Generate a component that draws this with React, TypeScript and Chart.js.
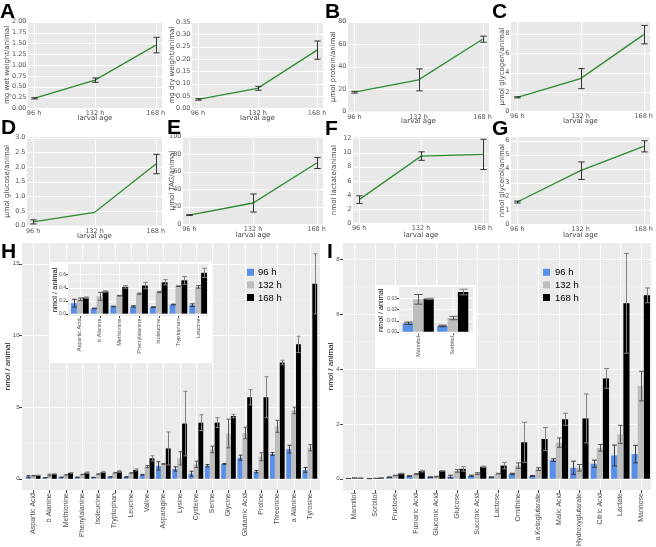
import React, { useEffect, useRef } from "react";
import { Chart, registerables } from "chart.js";

Chart.register(...registerables);

// ---------------- data: growth / metabolite time courses (A-G) ----------------
const AGE_HOURS = [96, 132, 168];
const AGE_LABELS = ["96 h", "132 h", "168 h"];

const wetWeight = [0.23, 0.65, 1.46];
const wetWeightErr = [0.015, 0.05, 0.18];
const dryWeight = [0.036, 0.081, 0.236];
const dryWeightErr = [0.003, 0.008, 0.037];
const protein = [17.2, 28.2, 64.4];
const proteinErr = [0.8, 9.8, 2.7];
const glycogen = [1.45, 3.37, 7.9];
const glycogenErr = [0.06, 1.03, 0.95];
const glucose = [0.13, 0.45, 2.1];
const glucoseErr = [0.07, 0, 0.33];
const tag = [10.5, 24.3, 70];
const tagErr = [0.5, 10.3, 6.3];
const lactate = [3.35, 9.5, 9.75];
const lactateErr = [0.54, 0.6, 2.14];
const glycerol = [1.6, 3.85, 5.6];
const glycerolErr = [0.07, 0.63, 0.4];

const wetTicks = [0, 0.25, 0.5, 0.75, 1, 1.25, 1.5, 1.75, 2];
const dryTicks = [0, 0.05, 0.1, 0.15, 0.2, 0.25, 0.3, 0.35];
const proteinTicks = [0, 20, 40, 60, 80];
const glycogenTicks = [0, 1, 2, 3, 4, 5, 6, 7, 8, 9];
const glucoseTicks = [0, 0.5, 1, 1.5, 2, 2.5, 3];
const tagTicks = [0, 20, 40, 60, 80, 100];
const lactateTicks = [0, 2, 4, 6, 8, 10, 12];
const glycerolTicks = [0, 1, 2, 3, 4, 5, 6];

// ---------------- data: amino acids (H) ----------------
const SERIES_LABELS = ["96 h", "132 h", "168 h"];

const hCategories = [
  "Aspartic Acid", "b Alanine", "Methionine", "Phenylalanine", "Isoleucine", "Tryptophan",
  "Leucine", "Valine", "Asparagine", "Lysine", "Cysteine", "Serine", "Glycine",
  "Glutamic Acid", "Proline", "Threonine", "a Alanine", "Tyrosine",
];
const h96 = [0.16, 0.08, 0.11, 0.11, 0.1, 0.14, 0.13, 0.28, 0.9, 0.69, 0.35, 0.92, 1.04, 1.47, 0.5, 1.73, 2.07, 0.62];
const h96Err = [0.06, 0.005, 0.005, 0.01, 0.005, 0.005, 0.02, 0.03, 0.29, 0.15, 0.18, 0.08, 0.03, 0.18, 0.08, 0.1, 0.27, 0.17];
const h132 = [0.22, 0.265, 0.275, 0.305, 0.33, 0.42, 0.41, 0.85, 1.04, 1.43, 1.01, 2.05, 3.16, 3.2, 1.54, 3.66, 4.77, 2.17];
const h132Err = [0.02, 0.06, 0.005, 0.01, 0.01, 0.005, 0.02, 0.07, 0.03, 0.46, 0.22, 0.23, 1.0, 0.4, 0.28, 0.42, 0.23, 0.22];
const h168 = [0.245, 0.34, 0.41, 0.43, 0.48, 0.51, 0.625, 1.43, 2.12, 3.85, 3.92, 3.92, 4.38, 5.69, 5.69, 8.11, 9.38, 13.6];
const h168Err = [0.01, 0.01, 0.02, 0.05, 0.04, 0.06, 0.07, 0.18, 1.15, 2.25, 0.55, 0.34, 0.12, 0.53, 1.43, 0.16, 0.57, 2.1];
const hTicks = [0, 5, 10, 15];
const hInsetCount = 7;
const hInsetTicks = [0, 0.2, 0.4, 0.6];

// ---------------- data: sugars & organic acids (I) ----------------
const iCategories = [
  "Mannitol", "Sorbitol", "Fructose", "Fumaric Acid", "Gluconic Acid", "Glucose",
  "Succinic Acid", "Lactose", "Ornithine", "a Ketoglutarate", "Malic Acid",
  "Hydroxyglutarate", "Citric Acid", "Lactate", "Mannose",
];
const i96 = [0.0077, 0.0052, 0.06, 0.1, 0.06, 0.08, 0.11, 0.06, 0.18, 0.1, 0.68, 0.4, 0.55, 0.85, 0.9];
const i96Err = [0.001, 0.0007, 0.005, 0.01, 0.01, 0.05, 0.02, 0.01, 0.02, 0.02, 0.05, 0.24, 0.13, 0.38, 0.32];
const i132 = [0.029, 0.0123, 0.12, 0.17, 0.08, 0.29, 0.19, 0.19, 0.48, 0.35, 1.32, 0.4, 1.13, 1.62, 3.38];
const i132Err = [0.0043, 0.0015, 0.01, 0.02, 0.01, 0.05, 0.03, 0.01, 0.1, 0.05, 0.17, 0.12, 0.12, 0.33, 0.54];
const i168 = [0.0295, 0.0355, 0.19, 0.28, 0.29, 0.36, 0.44, 0.48, 1.33, 1.45, 2.17, 2.2, 3.66, 6.4, 6.69];
const i168Err = [0.0005, 0.0025, 0.01, 0.03, 0.01, 0.08, 0.02, 0.12, 0.73, 0.42, 0.22, 0.89, 0.36, 1.82, 0.27];
const iTicks = [0, 2, 4, 6, 8];
const iInsetCount = 2;
const iInsetTicks = [0, 0.01, 0.02, 0.03];

// ---------------- styles ----------------
const LINE_FONT = "'DejaVu Sans', sans-serif";
const BAR_FONT = "'Liberation Sans', Arial, sans-serif";
const GREEN = "#2f8a2f";
const SERIES_COLORS = ["#5a8fe8", "#bdbdbd", "#000000"];
const SERIES_ERR_COLORS = ["#3a3a3a", "#555555", "#808080"];
const NO_GRID = { display: false, drawTicks: false, tickLength: 0 };

type Area = { l: number; r: number; t: number; b: number };
type Box = { x: number; y: number; w: number; h: number };

// ---------------- plugins ----------------
const panelPlugin = {
  id: "panel",
  beforeDraw(chart: any, _a: any, o: any) {
    const { ctx, chartArea: a } = chart;
    const xs = chart.scales.x;
    const ys = chart.scales.y;
    const l = a.left - (o.padL || 0);
    const r = a.right + (o.padR || 0);
    ctx.save();
    if (o.canvasBg) {
      ctx.fillStyle = o.canvasBg;
      ctx.fillRect(0, 0, chart.width, chart.height);
    }
    ctx.fillStyle = o.bg;
    ctx.fillRect(l, a.top, r - l, a.bottom - a.top);
    const tv: number[] = ys.ticks.map((t: any) => t.value);
    if (o.minor) {
      ctx.strokeStyle = o.minorColor;
      ctx.lineWidth = o.minorWidth;
      ctx.beginPath();
      for (let i = 0; i < tv.length - 1; i++) {
        const py = ys.getPixelForValue((tv[i] + tv[i + 1]) / 2);
        ctx.moveTo(l, py);
        ctx.lineTo(r, py);
      }
      ctx.stroke();
    }
    ctx.strokeStyle = o.gridColor;
    ctx.lineWidth = o.gridWidth;
    ctx.beginPath();
    tv.forEach((v) => {
      const py = Math.round(ys.getPixelForValue(v)) + 0.5;
      ctx.moveTo(l, py);
      ctx.lineTo(r, py);
    });
    xs.ticks.forEach((_t: any, i: number) => {
      const px = Math.round(xs.getPixelForTick(i)) + 0.5;
      ctx.moveTo(px, a.top);
      ctx.lineTo(px, a.bottom);
    });
    ctx.stroke();
    if (o.tickLen) {
      ctx.strokeStyle = o.tickColor;
      ctx.lineWidth = 1;
      ctx.beginPath();
      tv.forEach((v) => {
        const py = Math.round(ys.getPixelForValue(v)) + 0.5;
        ctx.moveTo(l - o.tickLen, py);
        ctx.lineTo(l, py);
      });
      xs.ticks.forEach((_t: any, i: number) => {
        const px = Math.round(xs.getPixelForTick(i)) + 0.5;
        ctx.moveTo(px, a.bottom);
        ctx.lineTo(px, a.bottom + o.tickLen);
      });
      ctx.stroke();
    }
    ctx.restore();
  },
};

const errorBarPlugin = {
  id: "errorBars",
  afterDatasetsDraw(chart: any, _a: any, o: any) {
    const errs = o.errors;
    if (!errs) return;
    const { ctx } = chart;
    const ys = chart.scales.y;
    ctx.save();
    chart.data.datasets.forEach((ds: any, di: number) => {
      const e = errs[di];
      if (!e) return;
      const meta = chart.getDatasetMeta(di);
      ctx.strokeStyle = Array.isArray(o.color) ? o.color[di] : o.color;
      ctx.lineWidth = o.lineWidth || 1;
      meta.data.forEach((el: any, j: number) => {
        const err = e[j];
        if (!err) return;
        const raw = ds.data[j];
        const v = typeof raw === "number" ? raw : raw.y;
        const x = Math.round(el.x) + 0.5;
        const yt = ys.getPixelForValue(v + err);
        const yb = ys.getPixelForValue(v - err);
        const cap = o.capPx != null ? o.capPx : el.width * o.capFrac;
        ctx.beginPath();
        ctx.moveTo(x, yt);
        ctx.lineTo(x, yb);
        ctx.moveTo(x - cap, yt);
        ctx.lineTo(x + cap, yt);
        ctx.moveTo(x - cap, yb);
        ctx.lineTo(x + cap, yb);
        ctx.stroke();
      });
    });
    ctx.restore();
  },
};

const keyLegendPlugin = {
  id: "keyLegend",
  afterDraw(chart: any, _a: any, o: any) {
    if (!o || o.x == null) return;
    const { ctx } = chart;
    ctx.save();
    ctx.font = `${o.fontSize}px ${BAR_FONT}`;
    ctx.textBaseline = "middle";
    ctx.textAlign = "left";
    chart.data.datasets.forEach((ds: any, i: number) => {
      const cy = o.y + i * o.rowH;
      ctx.fillStyle = ds.backgroundColor;
      ctx.fillRect(o.x, cy - o.size / 2, o.size, o.size);
      ctx.fillStyle = "#000";
      ctx.fillText(ds.label, o.x + o.size + o.gap, cy + 0.5);
    });
    ctx.restore();
  },
};

// ---------------- line panels ----------------
type LinePanel = {
  area: Area;
  titleCx: number;
  titleCy: number;
  yMax: number;
  ticks: number[];
  decimals: number;
  yTitle: string;
  values: number[];
  errors: number[];
};

const LT_SIZE = 7;
const LT_HALF = (LT_SIZE * 1.2) / 2;
const LTICK_SIZE = 6.5;

const linePanels: LinePanel[] = [
  { area: { l: 28, r: 162, t: 21.7, b: 108.3 }, titleCx: 7, titleCy: 118.5, yMax: 2, ticks: wetTicks, decimals: 2, yTitle: "mg wet weight/animal", values: wetWeight, errors: wetWeightErr },
  { area: { l: 192, r: 323, t: 22, b: 108.3 }, titleCx: 172.5, titleCy: 118.5, yMax: 0.35, ticks: dryTicks, decimals: 2, yTitle: "mg dry weight/animal", values: dryWeight, errors: dryWeightErr },
  { area: { l: 348, r: 489, t: 21.7, b: 111.5 }, titleCx: 333, titleCy: 121.5, yMax: 80, ticks: proteinTicks, decimals: 0, yTitle: "µmol protein/animal", values: protein, errors: proteinErr },
  { area: { l: 511, r: 650, t: 22, b: 111.4 }, titleCx: 502, titleCy: 121.5, yMax: 9.2, ticks: glycogenTicks, decimals: 0, yTitle: "µmol glycogen/animal", values: glycogen, errors: glycogenErr },
  { area: { l: 27, r: 162, t: 137, b: 225.7 }, titleCx: 7.3, titleCy: 236, yMax: 3.02, ticks: glucoseTicks, decimals: 1, yTitle: "µmol glucose/animal", values: glucose, errors: glucoseErr },
  { area: { l: 183, r: 323, t: 136.7, b: 224.3 }, titleCx: 171.7, titleCy: 235, yMax: 100, ticks: tagTicks, decimals: 0, yTitle: "µmol TAG/animal", values: tag, errors: tagErr },
  { area: { l: 353, r: 489, t: 137, b: 223.3 }, titleCx: 334, titleCy: 235, yMax: 12.2, ticks: lactateTicks, decimals: 0, yTitle: "nmol lactate/animal", values: lactate, errors: lactateErr },
  { area: { l: 511, r: 650, t: 137, b: 224.3 }, titleCx: 502.5, titleCy: 235, yMax: 6.27, ticks: glycerolTicks, decimals: 0, yTitle: "nmol glycerol/animal", values: glycerol, errors: glycerolErr },
];

function lineBox(p: LinePanel): Box {
  const x = Math.round(p.titleCx - LT_HALF);
  const y = Math.floor(p.area.t - 6);
  const w = Math.min(656, Math.ceil(p.area.r + 9)) - x;
  const h = Math.round(p.titleCy + LT_HALF + 1) - y;
  return { x, y, w, h };
}

function lineConfig(p: LinePanel): any {
  const b = lineBox(p);
  const yW = p.area.l - b.x;
  const xH = b.y + b.h - p.area.b;
  const yTitlePad = p.titleCx - b.x - LT_HALF;
  const xTitlePad = b.y + b.h - p.titleCy - LT_HALF;
  return {
    type: "line",
    data: {
      datasets: [
        {
          data: AGE_HOURS.map((hr, i) => ({ x: hr, y: p.values[i] })),
          borderColor: GREEN,
          borderWidth: 1.3,
          pointRadius: 0,
          tension: 0,
          fill: false,
        },
      ],
    },
    plugins: [panelPlugin, errorBarPlugin],
    options: {
      animation: false,
      responsive: false,
      events: [],
      layout: { padding: { left: 0, top: p.area.t - b.y, right: b.x + b.w - p.area.r, bottom: 0 } },
      plugins: {
        legend: { display: false },
        tooltip: { enabled: false },
        panel: { bg: "#e8e8e8", gridColor: "#ffffff", gridWidth: 1 },
        errorBars: { errors: [p.errors], color: "#333333", capPx: 3.2, lineWidth: 1 },
      },
      scales: {
        x: {
          type: "linear",
          min: 92.4,
          max: 171.6,
          grid: NO_GRID,
          border: { display: false },
          afterBuildTicks: (s: any) => {
            s.ticks = AGE_HOURS.map((v) => ({ value: v }));
          },
          ticks: {
            callback: (_v: any, i: number) => AGE_LABELS[i],
            font: { family: LINE_FONT, size: LTICK_SIZE },
            color: "#555555",
            padding: 1.5,
            maxRotation: 0,
            autoSkip: false,
          },
          title: {
            display: true,
            text: "larval age",
            font: { family: LINE_FONT, size: LT_SIZE },
            color: "#444444",
            padding: { top: 0, bottom: xTitlePad },
          },
          afterFit: (s: any) => {
            s.height = xH;
            s.paddingLeft = 0;
            s.paddingRight = 0;
          },
        },
        y: {
          min: 0,
          max: p.yMax,
          grid: NO_GRID,
          border: { display: false },
          afterBuildTicks: (s: any) => {
            s.ticks = p.ticks.map((v) => ({ value: v }));
          },
          ticks: {
            callback: (v: any) => Number(v).toFixed(p.decimals),
            font: { family: LINE_FONT, size: LTICK_SIZE },
            color: "#555555",
            padding: 1.5,
          },
          title: {
            display: true,
            text: p.yTitle,
            font: { family: LINE_FONT, size: LT_SIZE },
            color: "#444444",
            padding: { top: yTitlePad, bottom: 0 },
          },
          afterFit: (s: any) => {
            s.width = yW;
            s.paddingTop = 0;
            s.paddingBottom = 0;
          },
        },
      },
    },
  };
}

// ---------------- bar panels ----------------
type BarPanel = {
  box: Box;
  area: Area;
  panelPad: { l: number; r: number };
  categories: string[];
  series: number[][];
  errors: number[][];
  yMin: number;
  yMax: number;
  ticks: number[];
  decimals: number;
  titleCx: number;
  titleSize: number;
  tickSize: number;
  labelSize: number;
  tickLen: number;
  yLabelRight: number;
  labelPad: number;
  legend?: any;
  canvasBg?: string;
};

function barConfig(p: BarPanel): any {
  const b = p.box;
  const yW = p.area.l - b.x;
  const xH = b.y + b.h - p.area.b;
  const half = (p.titleSize * 1.2) / 2;
  return {
    type: "bar",
    data: {
      labels: p.categories,
      datasets: p.series.map((vals, i) => ({
        label: SERIES_LABELS[i],
        data: vals,
        backgroundColor: SERIES_COLORS[i],
        borderWidth: 0,
        barPercentage: 1,
        categoryPercentage: 0.9,
      })),
    },
    plugins: [panelPlugin, errorBarPlugin, keyLegendPlugin],
    options: {
      animation: false,
      responsive: false,
      events: [],
      layout: { padding: { left: 0, top: p.area.t - b.y, right: b.x + b.w - p.area.r, bottom: 0 } },
      plugins: {
        legend: { display: false },
        tooltip: { enabled: false },
        panel: {
          bg: "#ebebeb",
          gridColor: "#ffffff",
          gridWidth: 1,
          minor: true,
          minorColor: "rgba(255,255,255,0.55)",
          minorWidth: 0.6,
          padL: p.panelPad.l,
          padR: p.panelPad.r,
          tickLen: p.tickLen,
          tickColor: "#444444",
          canvasBg: p.canvasBg,
        },
        errorBars: { errors: p.errors, color: SERIES_ERR_COLORS, capFrac: 0.4, lineWidth: 1 },
        keyLegend: p.legend || {},
      },
      scales: {
        x: {
          grid: NO_GRID,
          border: { display: false },
          ticks: {
            font: { family: BAR_FONT, size: p.labelSize },
            color: "#4d4d4d",
            padding: p.labelPad,
            minRotation: 90,
            maxRotation: 90,
            autoSkip: false,
          },
          afterFit: (s: any) => {
            s.height = xH;
            s.paddingLeft = 0;
            s.paddingRight = 0;
          },
        },
        y: {
          min: p.yMin,
          max: p.yMax,
          grid: NO_GRID,
          border: { display: false },
          afterBuildTicks: (s: any) => {
            s.ticks = p.ticks.map((v) => ({ value: v }));
          },
          ticks: {
            callback: (v: any) => Number(v).toFixed(p.decimals),
            font: { family: BAR_FONT, size: p.tickSize },
            color: "#4d4d4d",
            padding: p.area.l - p.yLabelRight,
          },
          title: {
            display: true,
            text: "nmol / animal",
            font: { family: BAR_FONT, size: p.titleSize },
            color: "#000000",
            padding: { top: p.titleCx - b.x - half, bottom: 0 },
          },
          afterFit: (s: any) => {
            s.width = yW;
            s.paddingTop = 0;
            s.paddingBottom = 0;
          },
        },
      },
    },
  };
}

const hMain: BarPanel = {
  box: { x: 0, y: 240, w: 326, h: 307 },
  area: { l: 25, r: 318, t: 243, b: 490 },
  panelPad: { l: 3, r: 2 },
  categories: hCategories,
  series: [h96, h132, h168],
  errors: [h96Err, h132Err, h168Err],
  yMin: -0.78,
  yMax: 16.45,
  ticks: hTicks,
  decimals: 0,
  titleCx: 8,
  titleSize: 8,
  tickSize: 6,
  labelSize: 7,
  tickLen: 3,
  yLabelRight: 19.5,
  labelPad: 3,
  legend: { x: 247, y: 32.3, rowH: 12.6, size: 7, gap: 4, fontSize: 9.5 },
};

const hInset: BarPanel = {
  box: { x: 49, y: 262, w: 164, h: 101 },
  area: { l: 70, r: 208, t: 264, b: 316 },
  panelPad: { l: 2, r: 0 },
  categories: hCategories.slice(0, hInsetCount),
  series: [h96, h132, h168].map((s) => s.slice(0, hInsetCount)),
  errors: [h96Err, h132Err, h168Err].map((s) => s.slice(0, hInsetCount)),
  yMin: -0.036,
  yMax: 0.76,
  ticks: hInsetTicks,
  decimals: 1,
  titleCx: 55,
  titleSize: 7.5,
  tickSize: 5,
  labelSize: 5.6,
  tickLen: 2,
  yLabelRight: 66,
  labelPad: 2.5,
  canvasBg: "#ffffff",
};

const iMain: BarPanel = {
  box: { x: 326, y: 240, w: 330, h: 307 },
  area: { l: 344, r: 651, t: 243, b: 490 },
  panelPad: { l: 1, r: 0 },
  categories: iCategories,
  series: [i96, i132, i168],
  errors: [i96Err, i132Err, i168Err],
  yMin: -0.41,
  yMax: 8.6,
  ticks: iTicks,
  decimals: 0,
  titleCx: 331,
  titleSize: 8,
  tickSize: 6,
  labelSize: 7,
  tickLen: 3,
  yLabelRight: 339.5,
  labelPad: 3,
  legend: { x: 217, y: 32.3, rowH: 12.6, size: 7, gap: 5, fontSize: 9.5 },
};

const iInset: BarPanel = {
  box: { x: 375, y: 285, w: 101, h: 83 },
  area: { l: 401, r: 470, t: 287, b: 333.5 },
  panelPad: { l: 2, r: 3 },
  categories: iCategories.slice(0, iInsetCount),
  series: [i96, i132, i168].map((s) => s.slice(0, iInsetCount)),
  errors: [i96Err, i132Err, i168Err].map((s) => s.slice(0, iInsetCount)),
  yMin: -0.0015,
  yMax: 0.04,
  ticks: iInsetTicks,
  decimals: 2,
  titleCx: 380.5,
  titleSize: 7.3,
  tickSize: 5,
  labelSize: 5.5,
  tickLen: 2,
  yLabelRight: 397,
  labelPad: 2.5,
  canvasBg: "#ffffff",
};

// ---------------- components ----------------
function ChartCanvas({ box, build }: { box: Box; build: () => any }) {
  const ref = useRef<HTMLCanvasElement | null>(null);
  useEffect(() => {
    if (!ref.current) return;
    const chart = new Chart(ref.current, build());
    return () => chart.destroy();
  }, []);
  return (
    <canvas
      ref={ref}
      width={box.w}
      height={box.h}
      style={{ position: "absolute", left: box.x, top: box.y, width: box.w, height: box.h, display: "block" }}
    />
  );
}

const PANEL_LETTERS = [
  { t: "A", x: 0, y: 0 },
  { t: "B", x: 325, y: 0 },
  { t: "C", x: 492, y: 0 },
  { t: "D", x: 1, y: 115.5 },
  { t: "E", x: 167, y: 115.5 },
  { t: "F", x: 325, y: 116.5 },
  { t: "G", x: 492, y: 116.5 },
  { t: "H", x: 1, y: 240 },
  { t: "I", x: 327, y: 240 },
];

export default function App() {
  return (
    <div
      style={{
        position: "fixed",
        left: 0,
        top: 0,
        width: 656,
        height: 547,
        background: "#ffffff",
        overflow: "hidden",
      }}
    >
      {linePanels.map((p, i) => (
        <ChartCanvas key={"l" + i} box={lineBox(p)} build={() => lineConfig(p)} />
      ))}
      <ChartCanvas box={hMain.box} build={() => barConfig(hMain)} />
      <ChartCanvas box={iMain.box} build={() => barConfig(iMain)} />
      <ChartCanvas box={hInset.box} build={() => barConfig(hInset)} />
      <ChartCanvas box={iInset.box} build={() => barConfig(iInset)} />
      {PANEL_LETTERS.map((L) => (
        <div
          key={L.t}
          style={{
            position: "absolute",
            left: L.x,
            top: L.y,
            fontFamily: "'Liberation Sans', Arial, sans-serif",
            fontWeight: 700,
            fontSize: 21,
            lineHeight: "21px",
            color: "#000",
          }}
        >
          {L.t}
        </div>
      ))}
    </div>
  );
}
